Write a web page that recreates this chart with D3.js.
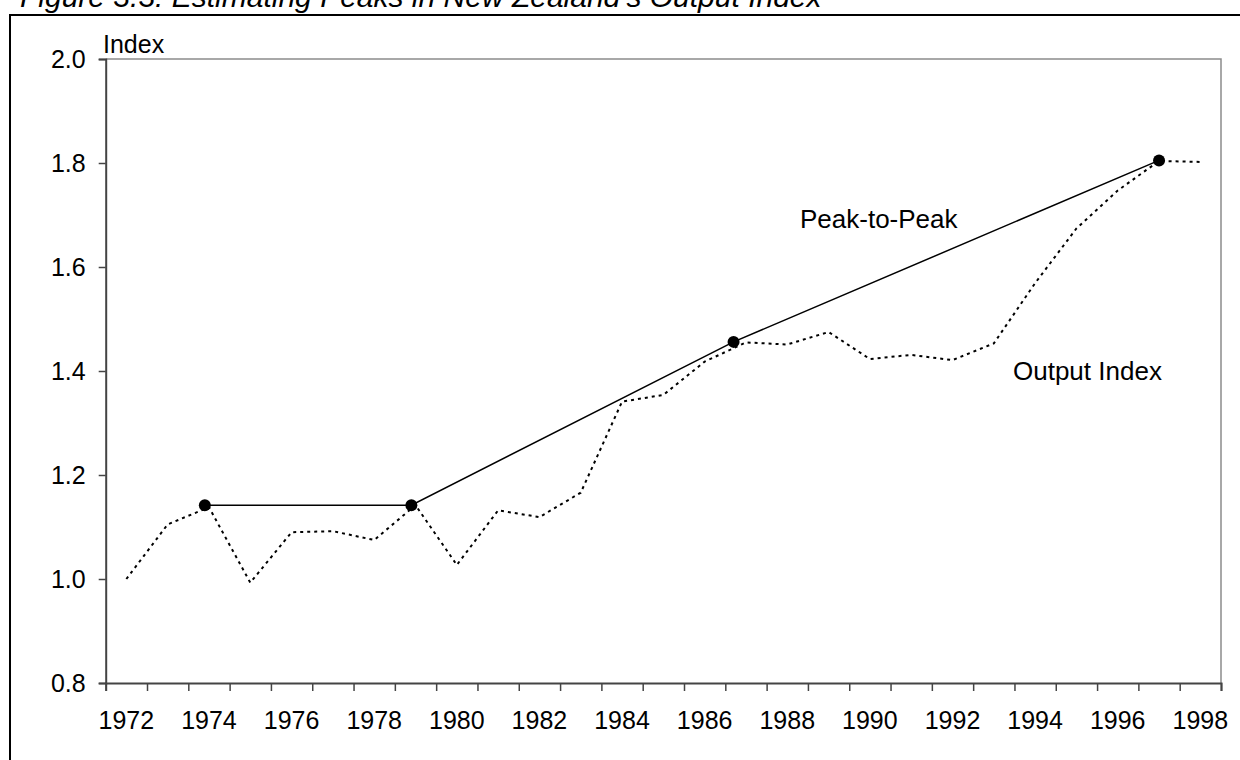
<!DOCTYPE html>
<html>
<head>
<meta charset="utf-8">
<script src="https://cdn.jsdelivr.net/npm/d3@7/dist/d3.min.js"></script>
<style>
  body { margin: 0; background: #fff; }
  svg { display: block; font-family: "Liberation Sans", Arial, sans-serif; }
</style>
</head>
<body>
<script>
// years on the category axis
var years = d3.range(1972, 1999);

// output index, one value per year
var outputIndex = [1.000, 1.105, 1.138, 0.993, 1.090, 1.092, 1.075, 1.142, 1.027,
                   1.132, 1.119, 1.166, 1.341, 1.354, 1.418, 1.455, 1.451, 1.475,
                   1.423, 1.431, 1.421, 1.453, 1.569, 1.674, 1.747, 1.804, 1.802];

// peaks joined by the peak-to-peak line
var peakYears = [1973.9, 1978.9, 1986.7, 1997.0];
var peakValues = [1.142, 1.142, 1.456, 1.805];

// y axis ticks
var yTicks = [0.8, 1.0, 1.2, 1.4, 1.6, 1.8, 2.0];
// labels every other year
var xLabels = d3.range(1972, 1999, 2);

var w = 1240;
var h = 760;
// plot area edges
var plotLeft = 105.7, plotRight = 1221, plotTop = 59, plotBottom = 683;

var svg = d3.select("body").append("svg")
    .attr("width", w)
    .attr("height", h);

// title, mostly cut off at the top
svg.append("text")
    .attr("x", 20)
    .attr("y", 7)
    .style("font-size", "30px")
    .style("font-style", "italic")
    .text("Figure 3.3: Estimating Peaks in New Zealand\u2019s Output Index");

// outer frame
svg.append("rect")
    .attr("x", 10)
    .attr("y", 15)
    .attr("width", 1260)
    .attr("height", 800)
    .attr("fill", "none")
    .attr("stroke", "#000")
    .attr("stroke-width", 2);

// scales
var x = d3.scaleLinear().domain([1971.5, 1998.5]).range([plotLeft, plotRight]);
var y = d3.scaleLinear().domain([0.8, 2.0]).range([plotBottom, plotTop]);

// plot border (top and right)
svg.append("path")
    .attr("d", "M" + plotLeft + "," + plotTop + "H" + plotRight + "V" + plotBottom)
    .attr("fill", "none")
    .attr("stroke", "#8c8c8c")
    .attr("stroke-width", 1.5);

// y axis
var yAxis = d3.axisLeft(y).tickValues(yTicks).tickSize(7).tickPadding(13)
    .tickFormat(d3.format(".1f"));
var gy = svg.append("g")
    .attr("transform", "translate(" + plotLeft + ",0)")
    .call(yAxis);
gy.select(".domain").attr("stroke", "#444").attr("stroke-width", 2);
gy.selectAll(".tick line").attr("stroke", "#444").attr("stroke-width", 1.5);
gy.selectAll(".tick text")
    .attr("fill", "#000")
    .style("font-size", "25px")
    .style("font-family", "'Liberation Sans', Arial, sans-serif");

// x axis: tick marks between years
var xAxis = d3.axisBottom(x).tickValues(d3.range(1971.5, 1999, 1)).tickSize(8).tickFormat("");
var gx = svg.append("g")
    .attr("transform", "translate(0," + plotBottom + ")")
    .call(xAxis);
gx.select(".domain").attr("stroke", "#444").attr("stroke-width", 2);
gx.selectAll(".tick line").attr("stroke", "#444").attr("stroke-width", 1.5);

// year labels
svg.selectAll(".xlab")
    .data(xLabels)
    .enter()
    .append("text")
    .attr("class", "xlab")
    .attr("x", function(d) { return x(d); })
    .attr("y", 729)
    .attr("text-anchor", "middle")
    .style("font-size", "25px")
    .text(function(d) { return d; });

// axis title
svg.append("text")
    .attr("x", 103)
    .attr("y", 53)
    .style("font-size", "25px")
    .text("Index");

// output index, dotted
var line = d3.line()
    .x(function(d, i) { return x(years[i]); })
    .y(function(d) { return y(d); });
svg.append("path")
    .datum(outputIndex)
    .attr("d", line)
    .attr("fill", "none")
    .attr("stroke", "#000")
    .attr("stroke-width", 2)
    .attr("stroke-dasharray", "3,4");

// peak-to-peak, solid
var peakLine = d3.line()
    .x(function(d, i) { return x(peakYears[i]); })
    .y(function(d) { return y(d); });
svg.append("path")
    .datum(peakValues)
    .attr("d", peakLine)
    .attr("fill", "none")
    .attr("stroke", "#000")
    .attr("stroke-width", 1.5);

svg.selectAll(".peak")
    .data(peakValues)
    .enter()
    .append("circle")
    .attr("class", "peak")
    .attr("cx", function(d, i) { return x(peakYears[i]); })
    .attr("cy", function(d) { return y(d); })
    .attr("r", 6)
    .attr("fill", "#000");

// line labels
svg.append("text")
    .attr("x", 800)
    .attr("y", 228)
    .style("font-size", "26px")
    .text("Peak-to-Peak");
svg.append("text")
    .attr("x", 1013)
    .attr("y", 380)
    .style("font-size", "26px")
    .text("Output Index");
</script>
</body>
</html>
